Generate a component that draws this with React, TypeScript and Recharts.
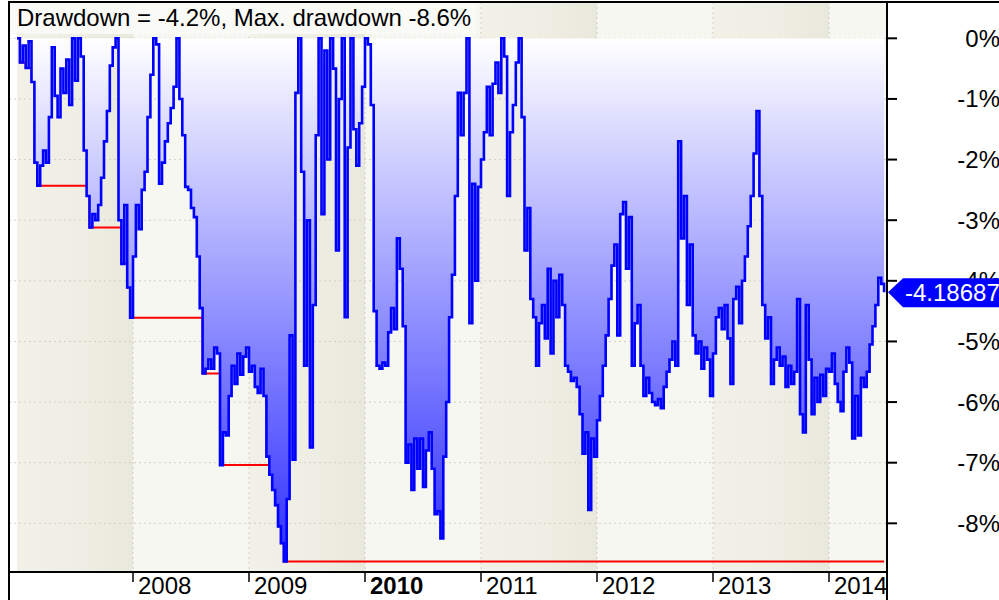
import React from "react";
import {
  ComposedChart,
  Area,
  Line,
  XAxis,
  YAxis,
  CartesianGrid,
  ReferenceArea,
  ReferenceDot,
} from "recharts";

// sample spacing of the drawdown series, in years (~9 calendar days)
const START_YEAR = 2007;
const STEP = 0.025;

// drawdown in %
const drawdown = [
  0, -0.4, -0.12, -0.49, -0.05, -0.72, -2.05, -2.43, -2.1, -1.85,
  -2.05, -1.3, -0.15, -0.95, -1.3, -0.5, -0.9, -0.35, -1.1, 0,
  -0.7, 0, -0.3, -1.85, -2.6, -3.12, -2.9, -3.0, -2.75, -2.3,
  -1.7, -1.2, -0.45, -0.15, 0, -3.0, -3.72, -2.75, -4.11, -4.61,
  -3.6, -2.75, -3.15, -2.5, -2.2, -1.3, -0.6, 0, -0.1, -2.4,
  -2.05, -1.7, -1.4, -1.15, -0.8, 0, -1.0, -1.6, -2.45, -2.5,
  -2.8, -2.95, -3.6, -4.45, -5.53, -5.45, -5.3, -5.45, -5.1, -5.2,
  -7.04, -6.5, -6.55, -5.9, -5.4, -5.7, -5.2, -5.55, -5.25, -5.1,
  -5.5, -5.4, -5.75, -5.85, -5.45, -5.9, -6.9, -7.2, -7.45, -7.7,
  -8.05, -8.33, -8.63, -7.6, -4.9, -6.95, -0.9, 0, -2.2, -5.4,
  -3.0, -6.75, -4.4, -1.6, 0, -2.9, -0.2, -2.0, 0, -0.5,
  -3.5, -1.0, 0, -4.6, -1.8, 0, -1.5, -2.1, -1.4, -0.8,
  0, -0.1, -1.1, -4.5, -5.4, -5.45, -5.35, -5.4, -4.85, -4.45,
  -4.8, -3.3, -3.8, -4.75, -7.0, -6.7, -7.45, -6.6, -7.1, -6.6,
  -7.4, -6.8, -6.5, -7.1, -7.85, -7.8, -8.25, -6.9, -6.0, -4.6,
  -3.9, -2.6, -0.9, -1.6, -0.9, 0, -4.7, -2.4, -4.0, -2.45,
  -2.0, -1.55, -0.8, -1.6, -0.75, -0.4, -0.9, 0, -0.3, -2.6,
  -1.55, -1.1, -0.4, 0, -1.3, -3.5, -2.8, -4.3, -4.6, -5.4,
  -4.7, -4.4, -4.95, -3.8, -5.2, -4.0, -4.6, -3.9, -4.4, -5.4,
  -5.5, -5.65, -5.6, -5.75, -6.2, -6.85, -6.5, -7.78, -6.6, -6.9,
  -6.3, -5.9, -5.4, -4.9, -4.3, -3.75, -3.4, -4.9, -2.9, -2.7,
  -3.8, -2.95, -5.4, -4.7, -4.4, -5.4, -5.9, -5.6, -5.85, -6.0,
  -6.05, -5.95, -6.1, -5.75, -5.5, -5.3, -5.0, -5.4, -1.7, -3.3,
  -2.6, -4.4, -3.4, -4.9, -5.2, -5.0, -5.45, -5.1, -5.3, -5.9,
  -5.2, -4.6, -4.45, -4.8, -4.4, -4.95, -5.7, -4.3, -4.1, -4.7,
  -4.0, -3.6, -3.1, -2.6, -1.9, -1.2, -2.6, -4.4, -4.95, -4.6,
  -5.7, -5.3, -5.1, -5.4, -5.25, -5.75, -5.4, -5.7, -5.5, -4.3,
  -6.2, -6.5, -4.4, -5.3, -6.2, -5.6, -6.0, -5.55, -5.9, -5.45,
  -5.5, -5.2, -5.7, -6.0, -6.15, -5.5, -5.1, -5.35, -6.6, -5.9,
  -6.55, -5.6, -5.75, -5.5, -5.05, -4.75, -4.4, -3.95, -4.05, -4.19,
];

// max drawdown (red line): sample index where a new low starts, and its value
const maxDdIndex = [0, 1, 3, 5, 7, 25, 36, 38, 39, 64, 70, 87, 88, 89, 90, 91, 92, 299];
const maxDdValue = [0, -0.4, -0.49, -0.72, -2.43, -3.12, -3.72, -4.11, -4.61, -5.53, -7.04, -7.2, -7.45, -7.7, -8.05, -8.33, -8.63, -8.63];

const yearTicks = [2008, 2009, 2010, 2011, 2012, 2013, 2014];
const pctTicks = [-8, -7, -6, -5, -4, -3, -2, -1, 0];
const bandYears = [2007, 2008, 2009, 2010, 2011, 2012, 2013, 2014];
const lastValue = -4.18687;
const maxDrawdown = -8.63;

const X_MIN = 2006.931;
const X_MAX = 2014.5;
const Y_MIN = -8.803;
const Y_MAX = 0.599;

const FONT = "'Liberation Sans', Arial, sans-serif";

const rows = drawdown.map((v, i) => ({ t: START_YEAR + i * STEP, dd: v }));
const maxRows = maxDdIndex.map((k, j) => ({ t: START_YEAR + k * STEP, mdd: maxDdValue[j] }));

const YearTick = (props: any) => {
  const { x, y, payload } = props;
  return (
    <text
      x={x + 5}
      y={y + 10}
      fontSize={24}
      fontFamily={FONT}
      fontWeight={payload.value === 2010 ? "bold" : "normal"}
      fill="#000"
    >
      {payload.value}
    </text>
  );
};

const PctTick = (props: any) => {
  const { x, y, payload } = props;
  return (
    <text x={x + 101} y={y + 8.5} textAnchor="end" fontSize={24} fontFamily={FONT} fill="#000">
      {`${payload.value}%`}
    </text>
  );
};

const ValueTag = (props: any) => {
  const { cx, cy } = props;
  const x0 = cx + 1;
  return (
    <g>
      <polygon
        points={`${x0},${cy} ${x0 + 15},${cy - 14} ${x0 + 115},${cy - 14} ${x0 + 115},${cy + 15} ${x0 + 15},${cy + 15}`}
        fill="#0000ff"
      />
      <text x={x0 + 17} y={cy + 9} fontSize={24} fontFamily={FONT} fill="#fff">
        {String(lastValue)}
      </text>
    </g>
  );
};

export default function App() {
  const title = `Drawdown = ${lastValue.toFixed(1)}%, Max. drawdown ${maxDrawdown.toFixed(1)}%`;
  return (
    <div style={{ position: "absolute", left: 0, top: 0, width: 999, height: 600, background: "#fff", overflow: "hidden" }}>
      <ComposedChart width={999} height={600} data={rows} margin={{ top: 2, right: 0, bottom: 0, left: 9 }}>
        <defs>
          <linearGradient id="ddFill" x1="0" y1="0" x2="0" y2="1">
            <stop offset="0%" stopColor="#ffffff" />
            <stop offset="100%" stopColor="#2e2eff" />
          </linearGradient>
          <linearGradient id="bandDark" x1="0" y1="0" x2="1" y2="0">
            <stop offset="0%" stopColor="#f2f1e8" />
            <stop offset="55%" stopColor="#efeee4" />
            <stop offset="100%" stopColor="#e9e8dc" />
          </linearGradient>
        </defs>
        {bandYears.map((yr, i) => (
          <ReferenceArea
            key={yr}
            x1={Math.max(yr, X_MIN)}
            x2={Math.min(yr + 1, X_MAX)}
            y1={Y_MIN}
            y2={Y_MAX}
            fill={i % 2 === 0 ? "url(#bandDark)" : "#f7f7f1"}
            fillOpacity={1}
            stroke="none"
            ifOverflow="visible"
            zIndex={-150}
          />
        ))}
        <CartesianGrid stroke="#d2d0c2" strokeDasharray="2 3" zIndex={-100} />
        <XAxis
          dataKey="t"
          type="number"
          domain={[X_MIN, X_MAX]}
          ticks={yearTicks}
          allowDataOverflow
          height={28}
          tickSize={10}
          axisLine={{ stroke: "#000", strokeWidth: 2 }}
          tickLine={{ stroke: "#000", strokeWidth: 1.5 }}
          tick={YearTick}
        />
        <YAxis
          orientation="right"
          type="number"
          domain={[Y_MIN, Y_MAX]}
          ticks={pctTicks}
          allowDataOverflow
          width={112}
          tickSize={10}
          axisLine={{ stroke: "#000", strokeWidth: 2 }}
          tickLine={{ stroke: "#000", strokeWidth: 2 }}
          tick={PctTick}
        />
        <Line
          data={maxRows}
          dataKey="mdd"
          type="stepAfter"
          stroke="#ff0000"
          strokeWidth={2}
          dot={false}
          activeDot={false}
          isAnimationActive={false}
          zIndex={90}
        />
        <Area
          dataKey="dd"
          type="stepAfter"
          baseValue={0}
          stroke="#0000ff"
          strokeWidth={2.6}
          fill="url(#ddFill)"
          fillOpacity={1}
          dot={false}
          activeDot={false}
          isAnimationActive={false}
          zIndex={100}
        />
        <ReferenceDot x={X_MAX} y={lastValue} ifOverflow="visible" shape={ValueTag} zIndex={2100} />
      </ComposedChart>
      {/* frame lines round the plot */}
      <div style={{ position: "absolute", left: 8, top: 1, width: 991, height: 2, background: "#000" }} />
      <div style={{ position: "absolute", left: 8, top: 1, width: 2, height: 599, background: "#000" }} />
      <div style={{ position: "absolute", left: 886, top: 571, width: 2, height: 29, background: "#000" }} />
      <div
        style={{
          position: "absolute",
          left: 10,
          top: 3,
          width: 466,
          height: 31,
          boxSizing: "border-box",
          paddingLeft: 7,
          background: "rgba(250,250,247,0.92)",
          fontFamily: FONT,
          fontSize: 24,
          lineHeight: "30px",
          color: "#000",
          whiteSpace: "nowrap",
        }}
      >
        {title}
      </div>
    </div>
  );
}
